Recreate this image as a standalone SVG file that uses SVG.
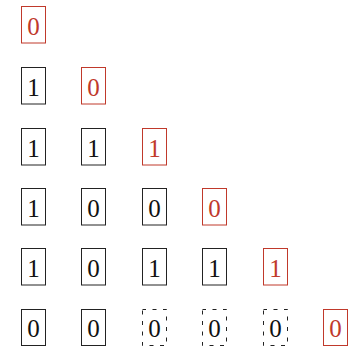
<svg xmlns="http://www.w3.org/2000/svg" width="352" height="347" viewBox="0 0 352 347">
<style>
.b{fill:none;stroke:#222;stroke-width:1}
.r{fill:none;stroke:#c0392b;stroke-width:1}
.d{fill:none;stroke:#222;stroke-width:1;stroke-dasharray:4 6.5;stroke-dashoffset:0.5}
text{font-family:"Liberation Serif","DejaVu Serif",serif;font-size:25px;text-anchor:middle}
.tr{fill:#c0392b}
.tb{fill:#111}
</style>
<rect width="352" height="347" fill="#fff"/>
<g id="n00"><rect class="r" x="21.5" y="6.5" width="24" height="36.5"/><text class="tr" x="33.5" y="34.5">0</text></g>
<g id="n10"><rect class="b" x="21.5" y="67.5" width="24" height="36.5"/><text class="tb" x="33.5" y="95.5">1</text></g>
<g id="n11"><rect class="r" x="81.5" y="67.5" width="24" height="36.5"/><text class="tr" x="93.5" y="95.5">0</text></g>
<g id="n20"><rect class="b" x="21.5" y="128.5" width="24" height="36.5"/><text class="tb" x="33.5" y="156.5">1</text></g>
<g id="n21"><rect class="b" x="81.5" y="128.5" width="24" height="36.5"/><text class="tb" x="93.5" y="156.5">1</text></g>
<g id="n22"><rect class="r" x="142.5" y="128.5" width="24" height="36.5"/><text class="tr" x="154.5" y="156.5">1</text></g>
<g id="n30"><rect class="b" x="21.5" y="188.5" width="24" height="36.5"/><text class="tb" x="33.5" y="216.5">1</text></g>
<g id="n31"><rect class="b" x="81.5" y="188.5" width="24" height="36.5"/><text class="tb" x="93.5" y="216.5">0</text></g>
<g id="n32"><rect class="b" x="142.5" y="188.5" width="24" height="36.5"/><text class="tb" x="154.5" y="216.5">0</text></g>
<g id="n33"><rect class="r" x="202.5" y="188.5" width="24" height="36.5"/><text class="tr" x="214.5" y="216.5">0</text></g>
<g id="n40"><rect class="b" x="21.5" y="248.5" width="24" height="36.5"/><text class="tb" x="33.5" y="276.5">1</text></g>
<g id="n41"><rect class="b" x="81.5" y="248.5" width="24" height="36.5"/><text class="tb" x="93.5" y="276.5">0</text></g>
<g id="n42"><rect class="b" x="142.5" y="248.5" width="24" height="36.5"/><text class="tb" x="154.5" y="276.5">1</text></g>
<g id="n43"><rect class="b" x="202.5" y="248.5" width="24" height="36.5"/><text class="tb" x="214.5" y="276.5">1</text></g>
<g id="n44"><rect class="r" x="263.5" y="248.5" width="24" height="36.5"/><text class="tr" x="275.5" y="276.5">1</text></g>
<g id="n50"><rect class="b" x="21.5" y="309.5" width="24" height="36"/><text class="tb" x="33.5" y="337">0</text></g>
<g id="n51"><rect class="b" x="81.5" y="309.5" width="24" height="36"/><text class="tb" x="93.5" y="337">0</text></g>
<g id="n52"><rect class="d" x="142.5" y="309.5" width="24" height="36"/><text class="tb" x="154.5" y="337">0</text></g>
<g id="n53"><rect class="d" x="202.5" y="309.5" width="24" height="36"/><text class="tb" x="214.5" y="337">0</text></g>
<g id="n54"><rect class="d" x="263.5" y="309.5" width="24" height="36"/><text class="tb" x="275.5" y="337">0</text></g>
<g id="n55"><rect class="r" x="323.5" y="309.5" width="24" height="36"/><text class="tr" x="335.5" y="337">0</text></g>
<g id="connectors"></g>
</svg>
